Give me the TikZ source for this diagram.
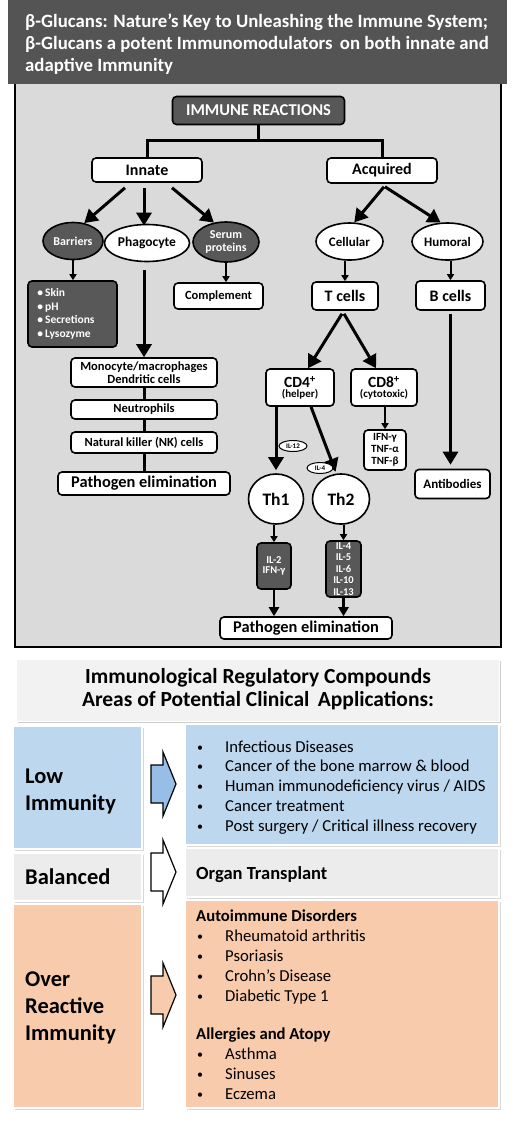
\documentclass[tikz,border=0pt]{standalone}
\usepackage{fontspec}
\setmainfont{Carlito}
\usetikzlibrary{arrows.meta,shapes.geometric,shadows}
\definecolor{hdr}{RGB}{84,84,84}
\definecolor{panel}{RGB}{218,218,218}
\definecolor{dk}{RGB}{88,88,88}
\definecolor{lblue}{RGB}{189,215,238}
\definecolor{ablue}{RGB}{150,190,230}
\definecolor{peach}{RGB}{248,203,173}
\definecolor{lgray}{RGB}{236,236,236}
\definecolor{tgray}{RGB}{242,242,242}
\newcommand{\myfs}[2]{\fontsize{#1}{#2}\selectfont}
\begin{document}
\begin{tikzpicture}[x=1pt,y=-1pt,
 box/.style={draw=black, line width=1.6pt, rounded corners=4pt, fill=white, inner sep=0pt, align=center, font=\bfseries},
 dbox/.style={box, fill=dk, text=white},
 ell/.style={draw=black, line width=1.6pt, ellipse, fill=white, inner sep=0pt, align=center, font=\bfseries},
 dell/.style={ell, fill=dk, text=white},
 bigarrow/.style={line width=3pt, -{Triangle[length=13pt,width=15pt]}},
 medarrow/.style={line width=2.6pt, -{Triangle[length=9pt,width=10pt]}},
 smallarrow/.style={line width=2pt, -{Triangle[length=6pt,width=7pt]}},
 link/.style={line width=3pt},
 tag/.style={draw=black, line width=1pt, ellipse, fill=white, inner sep=0pt, font=\bfseries\myfs{7}{8}},
 hdrtext/.style={anchor=base west, text=white, font=\bfseries\myfs{18.8}{22}, inner sep=0pt},
 lefttext/.style={anchor=base west, font=\bfseries\myfs{22.5}{24}, inner sep=0pt},
 righttext/.style={anchor=base west, font=\myfs{16.7}{18}, inner sep=0pt},
 rightbold/.style={anchor=base west, font=\bfseries\myfs{16.7}{18}, inner sep=0pt},
 bul/.style={anchor=base west, font=\myfs{12}{14}, inner sep=0pt},
 cell/.style={draw=white, line width=1.5pt, drop shadow={shadow xshift=1.5pt, shadow yshift=-1.5pt, opacity=0.3}},
 blockarrow/.style={draw=black, line width=1.2pt, line join=miter}
]
\useasboundingbox (0,0) rectangle (517,1125);
\fill[white] (0,0) rectangle (517,1125);

% ---------- upper panel ----------
\draw[fill=panel, line width=1.4pt] (15,80) rectangle (501,647);
\fill[hdr] (8,0) rectangle (507,84);
\node[hdrtext] (h1) at (25,27) {β-Glucans: Nature’s Key to Unleashing the Immune System;};
\node[hdrtext] (h2) at (25,49) {β-Glucans a potent Immunomodulators\, on both innate and};
\node[hdrtext] (h3) at (25,71) {adaptive Immunity};

\node[dbox, minimum width=172, minimum height=28, font=\bfseries\myfs{16.5}{17}] (immune) at (258.5,110.5) {IMMUNE REACTIONS};
\node[box, minimum width=110, minimum height=24, font=\bfseries\myfs{16}{17}] (innate) at (147,170) {Innate};
\node[box, minimum width=110, minimum height=25, font=\bfseries\myfs{16}{17}] (acquired) at (382,170.5) {Acquired};

\draw[link] (immune.south) -- ++(0,15) -| (innate.north);
\draw[link] (immune.south) -- ++(0,15) -| (acquired.north);

\node[dell, minimum width=60, minimum height=37, font=\bfseries\myfs{12}{13}] (barriers) at (73,241) {Barriers};
\node[ell, minimum width=85, minimum height=37, font=\bfseries\myfs{13.5}{14}] (phago) at (147,243) {Phagocyte};
\node[dell, minimum width=66, minimum height=40, font=\bfseries\myfs{12}{13.3}] (serum) at (226,242) {Serum\\proteins};

\draw[bigarrow] ([shift={(-22,5)}]innate.south) -- (barriers.58);
\draw[bigarrow] ([shift={(-3,5)}]innate.south) -- ([shift={(-3,2)}]phago.north);
\draw[bigarrow] ([shift={(25,5)}]innate.south) -- (serum.122);

\node[dbox, minimum width=89, minimum height=66, align=left, text width=70, font=\bfseries\myfs{11.5}{13.5}] (skin) at (72.5,314) {•\,Skin\\•\,pH\\•\,Secretions\\•\,Lysozyme};
\node[box, minimum width=89, minimum height=26, font=\bfseries\myfs{12.5}{14}] (compl) at (218.5,296) {Complement};
\draw[smallarrow] (barriers.south) -- (barriers.south |- skin.north);
\draw[smallarrow] (serum.south) -- (serum.south |- compl.north);

\node[box, minimum width=146, minimum height=29, font=\bfseries\myfs{12.5}{13.3}] (mono) at (144,372.5) {Monocyte/macrophages\\Dendritic cells};
\node[box, minimum width=146, minimum height=19, font=\bfseries\myfs{12.5}{14}] (neutro) at (144,409.5) {Neutrophils};
\node[box, minimum width=146, minimum height=21, font=\bfseries\myfs{12.5}{14}] (nk) at (144,442.5) {Natural killer (NK) cells};
\node[box, minimum width=172, minimum height=23, font=\bfseries\myfs{16.4}{17}] (pathL) at (144,483.5) {Pathogen elimination};
\draw[bigarrow] ([yshift=-8pt]phago.south -| mono.north) -- (mono.north);
\draw[link] (mono.south) -- (neutro.north);
\draw[link] (neutro.south) -- (nk.north);
\draw[link] (nk.south) -- (pathL.north);

% acquired side
\node[ell, minimum width=67, minimum height=37, font=\bfseries\myfs{13}{14}] (cellular) at (349.5,241.5) {Cellular};
\node[ell, minimum width=71, minimum height=37, font=\bfseries\myfs{13}{14}] (humoral) at (447.5,241.5) {Humoral};
\draw[bigarrow] ([shift={(2,3)}]acquired.south) -- (cellular.76);
\draw[bigarrow] ([shift={(3,3)}]acquired.south) -- (humoral.110);

\node[box, minimum width=66, minimum height=28, font=\bfseries\myfs{16}{17}] (tcells) at (345,296) {T cells};
\node[box, minimum width=69, minimum height=29, font=\bfseries\myfs{16}{17}] (bcells) at (450.5,295.5) {B cells};
\draw[smallarrow] (cellular.south -| tcells.north) -- (tcells.north);
\draw[smallarrow] (humoral.south -| bcells.north) -- (bcells.north);

\node[box, minimum width=68, minimum height=37] (cd4) at (300,387.5) {{\myfs{15.5}{16}CD4\textsuperscript{+}}\\[-2pt]{\myfs{11}{12}(helper)}};
\node[box, minimum width=66, minimum height=37] (cd8) at (384,387.5) {{\myfs{15.5}{16}CD8\textsuperscript{+}}\\[-2pt]{\myfs{11}{12}(cytotoxic)}};
\draw[bigarrow] ([shift={(-3,3)}]tcells.south) -- ([xshift=8pt]cd4.north);
\draw[bigarrow] ([shift={(-1,3)}]tcells.south) -- ([xshift=-8pt]cd8.north);

\node[box, minimum width=42, minimum height=40, font=\bfseries\myfs{11}{12.3}] (ifn) at (385,450) {IFN-γ\\TNF-α\\TNF-β};
\draw[smallarrow] (cd8.south -| ifn.north) -- (ifn.north);

\node[box, minimum width=75, minimum height=29, font=\bfseries\myfs{13}{14}] (antib) at (452.5,484) {Antibodies};
\draw[bigarrow] ([yshift=-3pt]bcells.south) -- ([yshift=4pt]bcells.south |- antib.north);

\node[ell, minimum width=55, minimum height=50, font=\bfseries\myfs{17.5}{18}] (th1) at (276,499) {Th1};
\node[ell, minimum width=57, minimum height=50, font=\bfseries\myfs{17.5}{18}] (th2) at (341,499) {Th2};
\draw[bigarrow] ([xshift=-24pt]cd4.south) -- ([yshift=3pt]th1.north);
\draw[bigarrow] ([xshift=11pt]cd4.south) -- ([yshift=2pt]th2.102);
\node[tag, minimum width=28, minimum height=11] (il12) at (293,446) {IL-12};
\node[tag, minimum width=26, minimum height=11] (il4t) at (320,468) {IL-4};

\node[dbox, minimum width=34, minimum height=46, font=\bfseries\myfs{10.5}{10.7}] (il2b) at (274,566) {IL-2\\IFN-γ};
\node[dbox, minimum width=35, minimum height=56, font=\bfseries\myfs{10.5}{11.5}] (il4b) at (343.5,569) {IL-4\\IL-5\\IL-6\\IL-10\\IL-13};
\draw[smallarrow] (th1.south -| il2b.north) -- (il2b.north);
\draw[smallarrow] (th2.south -| il4b.north) -- (il4b.north);

\node[box, minimum width=172, minimum height=22, font=\bfseries\myfs{16.4}{17}] (pathB) at (306,628) {Pathogen elimination};
\draw[medarrow] (il2b.south) -- (il2b.south |- pathB.north);
\draw[medarrow] (il4b.south) -- (il4b.south |- pathB.north);

% ---------- lower table ----------
\path[fill=tgray, draw=white, line width=1pt, drop shadow={shadow xshift=1.5pt, shadow yshift=-2pt, opacity=0.4}] (16,659) rectangle (499,721);
\node[anchor=base, font=\bfseries\myfs{21.5}{22}, inner sep=0pt] (t1) at (258,683) {Immunological Regulatory Compounds};
\node[anchor=base, font=\bfseries\myfs{21.5}{22}, inner sep=0pt] (t2) at (258,706) {Areas of Potential Clinical\, Applications:};

\path[cell, fill=lblue] (13,726) rectangle (142,849);
\path[cell, fill=lgray] (13,853) rectangle (142,901);
\path[cell, fill=peach] (13,904) rectangle (142,1108);

\path[cell, fill=lblue] (185,724) rectangle (499,845);
\path[cell, fill=lgray] (185,848) rectangle (499,897);
\path[cell, fill=peach] (185,900) rectangle (499,1108);

\node[lefttext] (lo1) at (25,783) {Low};
\node[lefttext] (lo2) at (25,810) {Immunity};
\node[lefttext] (ba1) at (25,884) {Balanced};
\node[lefttext] (ov1) at (25,986) {Over};
\node[lefttext] (ov2) at (25,1013) {Reactive};
\node[lefttext] (ov3) at (25,1040) {Immunity};

\foreach \c/\f in {784/ablue, 872/white, 995/peach}{
  \draw[blockarrow, fill=\f] (151,\c-19) -- (163,\c-19) -- (163,\c-32) -- (176,\c) -- (163,\c+32) -- (163,\c+19) -- (151,\c+19) -- cycle;
}

\foreach \t [count=\i] in {Infectious Diseases, Cancer of the bone marrow \& blood, Human immunodeficiency virus / AIDS, Cancer treatment, Post surgery / Critical illness recovery}{
  \node[bul] (lb\i) at (197,{751+19.8*(\i-1)}) {•};
  \node[righttext] (lt\i) at (225,{752+19.8*(\i-1)}) {\t};
}
\node[anchor=base west, font=\bfseries\myfs{18.5}{20}, inner sep=0pt] (organ) at (196,879) {Organ Transplant};
\node[rightbold] (auto) at (196,921) {Autoimmune Disorders};
\foreach \t [count=\i] in {Rheumatoid arthritis, Psoriasis, Crohn’s Disease, Diabetic Type 1}{
  \node[bul] (ab\i) at (197,{940+20*(\i-1)}) {•};
  \node[righttext] (at\i) at (225,{941+20*(\i-1)}) {\t};
}
\node[rightbold] (allerg) at (196,1039) {Allergies and Atopy};
\foreach \t [count=\i] in {Asthma, Sinuses, Eczema}{
  \node[bul] (gb\i) at (197,{1058+20*(\i-1)}) {•};
  \node[righttext] (gt\i) at (225,{1059+20*(\i-1)}) {\t};
}
\end{tikzpicture}
\end{document}
